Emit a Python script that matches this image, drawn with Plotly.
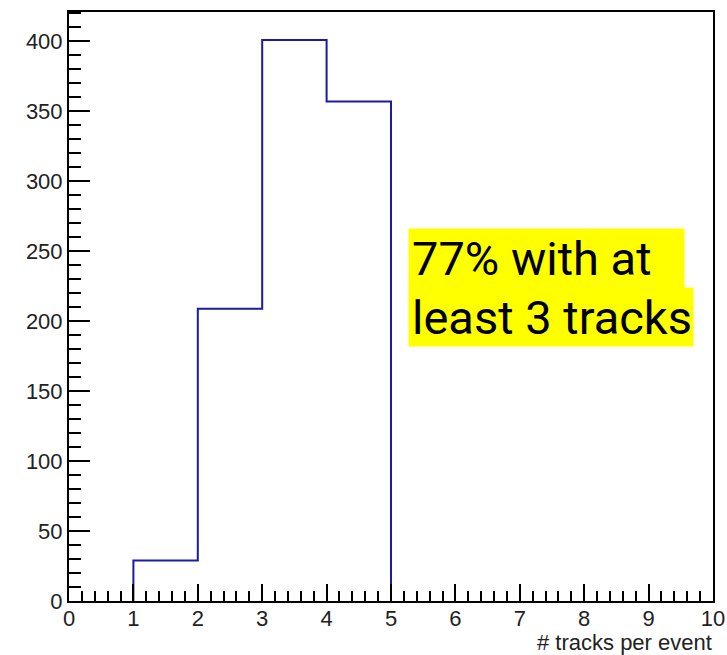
import plotly.graph_objects as go

# Histogram data: bin edges 0..10, counts per unit bin
bin_edges = [0, 1, 2, 3, 4, 5, 6, 7, 8, 9, 10]
counts = [0, 29, 209, 401, 357, 0, 0, 0, 0, 0]
x_title = "# tracks per event"
note_lines = ["77% with at\u00a0", "least 3 tracks"]

y_max = 1.05 * max(counts)

# Build the histogram outline only over the filled bins (empty bins lie on the axis)
nz = [i for i, c in enumerate(counts) if c != 0]
first, last = nz[0], nz[-1]
step_x = [bin_edges[first]] + [bin_edges[i] for i in range(first, last + 1)] + [bin_edges[last + 1]] * 2
step_y = [0] + [counts[i] for i in range(first, last + 1)] + [counts[last], 0]

fig = go.Figure()
fig.add_trace(go.Scatter(
    x=step_x,
    y=step_y,
    mode="lines",
    line=dict(shape="hv", color="#1a1aa6", width=2),
    hoverinfo="skip",
    showlegend=False,
))

axis_font = dict(family="Liberation Sans, Arial, sans-serif", size=22, color="#222222")

fig.update_layout(
    width=727, height=655,
    margin=dict(l=69, r=14, t=12, b=54, autoexpand=False),
    paper_bgcolor="white", plot_bgcolor="white",
    xaxis=dict(
        range=[0, 10], tickmode="linear", tick0=0, dtick=1, automargin=False,
        ticks="inside", ticklen=17, tickwidth=1.5, tickcolor="black",
        ticklabelstandoff=-3,
        minor=dict(ticks="inside", ticklen=10, dtick=0.2, tickwidth=1.5, tickcolor="black", showgrid=False),
        showline=True, linecolor="black", linewidth=2, mirror=True,
        showgrid=False, zeroline=False, tickfont=axis_font,
    ),
    yaxis=dict(
        range=[0, y_max], tickmode="linear", tick0=0, dtick=50, automargin=False,
        ticks="inside", ticklen=21, tickwidth=1.5, tickcolor="black",
        minor=dict(ticks="inside", ticklen=12, dtick=10, tickwidth=1.5, tickcolor="black", showgrid=False),
        showline=True, linecolor="black", linewidth=2, mirror=True,
        showgrid=False, zeroline=False, tickfont=axis_font,
    ),
)

fig.add_annotation(
    text=x_title, xref="paper", yref="paper", x=1.0, y=0, yshift=-28,
    xanchor="right", yanchor="top", showarrow=False, borderpad=0,
    font=axis_font,
)

note_font = dict(family="Roboto, sans-serif", size=47, color="black")
fig.add_annotation(
    text=note_lines[0], xref="paper", yref="paper", x=0.526, y=0.633,
    xanchor="left", yanchor="top", showarrow=False, align="left",
    width=269, height=53, borderpad=3, bgcolor="#ffff00", font=note_font,
)
fig.add_annotation(
    text=note_lines[1], xref="paper", yref="paper", x=0.526, y=0.533,
    xanchor="left", yanchor="top", showarrow=False, align="left",
    width=278, height=52, borderpad=3, bgcolor="#ffff00", font=note_font,
)

fig.write_html("out.html")
